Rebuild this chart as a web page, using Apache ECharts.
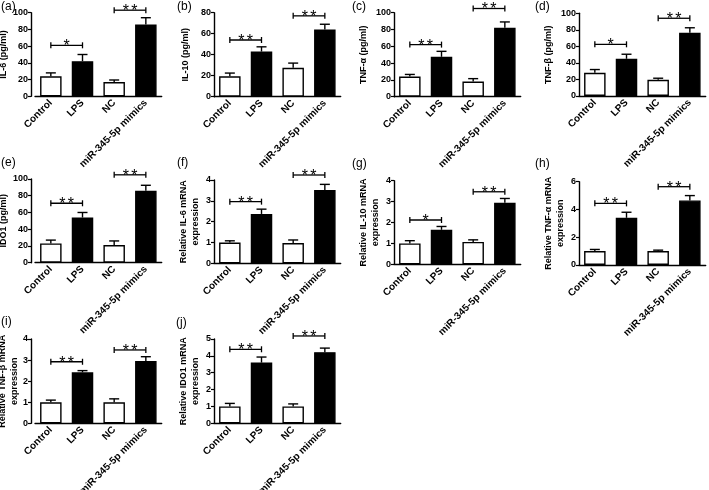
<!DOCTYPE html>
<html>
<head>
<meta charset="utf-8">
<script src="https://cdn.jsdelivr.net/npm/echarts@6/dist/echarts.min.js"></script>
<style>
  html, body { margin: 0; padding: 0; background: #fff; }
  #chart { width: 709px; height: 490px; }
</style>
</head>
<body>
<div id="chart"></div>
<script>
// groups on every x axis
const categories = ["Control", "LPS", "NC", "miR-345-5p mimics"];

// mean values and SEM
const il6Elisa = [24, 42, 17, 86];
const il6ElisaErr = [4, 8, 2.5, 8];
const il10Elisa = [19.5, 43, 27.5, 64];
const il10ElisaErr = [3, 4.5, 4.5, 5];
const tnfaElisa = [24, 47.5, 18, 82];
const tnfaElisaErr = [2.5, 6.5, 3.5, 7];
const tnfbElisa = [28, 45, 19.5, 76.5];
const tnfbElisaErr = [4, 5.5, 2, 6];
const ido1Elisa = [23, 54, 21, 86];
const ido1ElisaErr = [4, 6, 5, 6.5];
const il6Mrna = [1.0, 2.37, 0.97, 3.52];
const il6MrnaErr = [0.08, 0.23, 0.15, 0.27];
const il10Mrna = [1.0, 1.65, 1.07, 2.95];
const il10MrnaErr = [0.13, 0.16, 0.1, 0.2];
const tnfaMrna = [1.0, 3.4, 1.0, 4.65];
const tnfaMrnaErr = [0.12, 0.4, 0.07, 0.35];
const tnfbMrna = [1.0, 2.42, 1.0, 2.96];
const tnfbMrnaErr = [0.1, 0.08, 0.16, 0.2];
const ido1Mrna = [1.0, 3.6, 1.0, 4.22];
const ido1MrnaErr = [0.18, 0.33, 0.15, 0.24];

// significance brackets: [from group, to group, label, height]
const il6ElisaSig = [[0, 1, "*", 61], [2, 3, "**", 103]];
const il10ElisaSig = [[0, 1, "**", 54], [2, 3, "**", 77]];
const tnfaElisaSig = [[0, 1, "**", 62], [2, 3, "**", 105]];
const tnfbElisaSig = [[0, 1, "*", 62.5], [2, 3, "**", 94]];
const ido1ElisaSig = [[0, 1, "**", 71], [2, 3, "**", 105]];
const il6MrnaSig = [[0, 1, "**", 2.96], [2, 3, "**", 4.24]];
const il10MrnaSig = [[0, 1, "*", 2.12], [2, 3, "**", 3.47]];
const tnfaMrnaSig = [[0, 1, "**", 4.44], [2, 3, "**", 5.64]];
const tnfbMrnaSig = [[0, 1, "**", 2.92], [2, 3, "**", 3.48]];
const ido1MrnaSig = [[0, 1, "**", 4.39], [2, 3, "**", 5.18]];

const panels = [
  { tag: "(a)", name: "IL-6 (pg/ml)", mean: il6Elisa, err: il6ElisaErr, sig: il6ElisaSig, max: 100, step: 20 },
  { tag: "(b)", name: "IL-10 (pg/ml)", mean: il10Elisa, err: il10ElisaErr, sig: il10ElisaSig, max: 80, step: 20 },
  { tag: "(c)", name: "TNF-α (pg/ml)", mean: tnfaElisa, err: tnfaElisaErr, sig: tnfaElisaSig, max: 100, step: 20 },
  { tag: "(d)", name: "TNF-β (pg/ml)", mean: tnfbElisa, err: tnfbElisaErr, sig: tnfbElisaSig, max: 100, step: 20 },
  { tag: "(e)", name: "IDO1 (pg/ml)", mean: ido1Elisa, err: ido1ElisaErr, sig: ido1ElisaSig, max: 100, step: 20 },
  { tag: "(f)", name: "Relative IL-6 mRNA\nexpression", mean: il6Mrna, err: il6MrnaErr, sig: il6MrnaSig, max: 4, step: 1 },
  { tag: "(g)", name: "Relative IL-10 mRNA\nexpression", mean: il10Mrna, err: il10MrnaErr, sig: il10MrnaSig, max: 4, step: 1 },
  { tag: "(h)", name: "Relative TNF-α mRNA\nexpression", mean: tnfaMrna, err: tnfaMrnaErr, sig: tnfaMrnaSig, max: 6, step: 2 },
  { tag: "(i)", name: "Relative TNF-β mRNA\nexpression", mean: tnfbMrna, err: tnfbMrnaErr, sig: tnfbMrnaSig, max: 4, step: 1 },
  { tag: "(j)", name: "Relative IDO1 mRNA\nexpression", mean: ido1Mrna, err: ido1MrnaErr, sig: ido1MrnaSig, max: 5, step: 1 }
];

// where each panel sits (px): plot box, y axis shift, name gap, tag position
const layout = [
  { left: 35, off: 4, top: 12.7, bottom: 96.3, gap: 14, tx: 1, ty: 1 },
  { left: 214, off: 0, top: 12.7, bottom: 96.7, gap: 22, tx: 177, ty: 1 },
  { left: 394, off: 0, top: 12.7, bottom: 96.7, gap: 24, tx: 352, ty: 1 },
  { left: 579, off: 0, top: 13.3, bottom: 96, gap: 24, tx: 535, ty: 1 },
  { left: 35, off: 4, top: 179, bottom: 262.7, gap: 14, tx: 1, ty: 157 },
  { left: 214, off: 0, top: 180, bottom: 263.3, gap: 12, tx: 177, ty: 157 },
  { left: 394, off: 0, top: 180.7, bottom: 264.3, gap: 12, tx: 352, ty: 158 },
  { left: 579, off: 0, top: 181.7, bottom: 265, gap: 12, tx: 535, ty: 158 },
  { left: 35, off: 4, top: 339, bottom: 423.3, gap: 10, tx: 1, ty: 316, tight: true },
  { left: 214, off: 0, top: 339, bottom: 423.3, gap: 12, tx: 176, ty: 317 }
];

const FONT = "Liberation Sans, Arial, sans-serif";
const BAND = 31.67;

let chart = echarts.init(document.getElementById("chart"));

let grids = [], xAxes = [], yAxes = [], series = [], titles = [];

panels.forEach((p, k) => {
  const L = layout[k];
  grids.push({
    left: L.left, top: L.top, width: BAND * 4, height: L.bottom - L.top,
    containLabel: false, outerBoundsMode: "none"
  });
  titles.push({
    text: p.tag, left: L.tx, top: L.ty, padding: 0,
    textStyle: { fontFamily: FONT, fontSize: 12, fontWeight: "normal", color: "#000" }
  });
  xAxes.push({
    type: "category", gridIndex: k, data: categories,
    axisLine: { lineStyle: { color: "#000", width: 1.4 } },
    axisTick: { alignWithLabel: true, length: 3, lineStyle: { color: "#000", width: 1.2 } },
    axisLabel: {
      rotate: 45, margin: 5, interval: 0,
      fontFamily: FONT, fontSize: 10, fontWeight: "bold", color: "#000"
    }
  });
  yAxes.push({
    type: "value", gridIndex: k, min: 0, max: p.max, interval: p.step, offset: L.off,
    name: p.name, nameLocation: "middle", nameGap: L.gap,
    nameMoveOverlap: !L.tight,
    nameTextStyle: { fontFamily: FONT, fontSize: 9, fontWeight: "bold", color: "#000", lineHeight: 12 },
    axisLine: { show: true, lineStyle: { color: "#000", width: 1.4 } },
    axisTick: { show: true, length: 3, lineStyle: { color: "#000", width: 1.2 } },
    axisLabel: { margin: 3, fontFamily: FONT, fontSize: 9, fontWeight: "bold", color: "#000" },
    splitLine: { show: false }
  });

  // bars: white for controls, black for treated
  series.push({
    type: "bar", xAxisIndex: k, yAxisIndex: k, barWidth: 21.5,
    data: p.mean.map((v, i) => ({ value: v, itemStyle: { color: i % 2 ? "#000" : "#fff" } })),
    itemStyle: { borderColor: "#000", borderWidth: 1.4 },
    silent: true
  });

  // upper error bars
  series.push({
    type: "custom", xAxisIndex: k, yAxisIndex: k, silent: true, z: 3,
    encode: { x: 0, y: [1, 2] },
    data: p.mean.map((v, i) => [i, v, v + p.err[i]]),
    renderItem: function(params, api) {
      const base = api.coord([api.value(0), api.value(1)]);
      const top = api.coord([api.value(0), api.value(2)]);
      const st = { stroke: "#000", lineWidth: 1.4 };
      return {
        type: "group",
        children: [
          { type: "line", shape: { x1: base[0], y1: base[1], x2: top[0], y2: top[1] }, style: st },
          { type: "line", shape: { x1: top[0] - 5, y1: top[1], x2: top[0] + 5, y2: top[1] }, style: st }
        ]
      };
    }
  });

  // significance brackets with stars
  series.push({
    type: "custom", xAxisIndex: k, yAxisIndex: k, silent: true, z: 3,
    encode: { x: 0, y: 1 },
    data: p.sig.map(s => [s[0], s[3]]),
    renderItem: function(params, api) {
      const s = p.sig[params.dataIndex];
      const a = api.coord([s[0], s[3]]);
      const b = api.coord([s[1], s[3]]);
      const st = { stroke: "#000", lineWidth: 1.3 };
      const cx = (a[0] + b[0]) / 2;
      const kids = [
        { type: "line", shape: { x1: a[0], y1: a[1], x2: b[0], y2: b[1] }, style: st },
        { type: "line", shape: { x1: a[0], y1: a[1] - 3, x2: a[0], y2: a[1] + 3 }, style: st },
        { type: "line", shape: { x1: b[0], y1: b[1] - 3, x2: b[0], y2: b[1] + 3 }, style: st }
      ];
      const n = s[2].length;
      for (let j = 0; j < n; j++) {
        kids.push({
          type: "text", x: cx + (j - (n - 1) / 2) * 8.5, y: a[1] + 1.5,
          style: {
            text: s[2][j], align: "center", verticalAlign: "middle",
            font: "16px " + FONT, fill: "#000"
          }
        });
      }
      return { type: "group", children: kids };
    }
  });
});

let option = {
  animation: false,
  backgroundColor: "#fff",
  title: titles,
  grid: grids,
  xAxis: xAxes,
  yAxis: yAxes,
  series: series
};
chart.setOption(option);
</script>
</body>
</html>
